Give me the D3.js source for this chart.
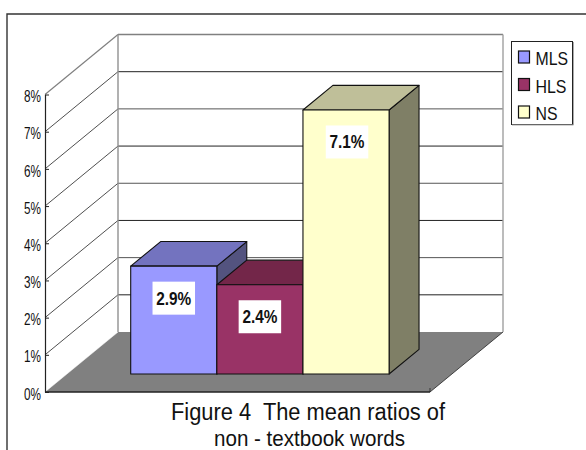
<!DOCTYPE html>
<html><head><meta charset="utf-8">
<script src="https://cdn.jsdelivr.net/npm/d3@7"></script>
<style>html,body{margin:0;padding:0;background:#fff;overflow:hidden}svg{display:block}text{font-family:"Liberation Sans",Arial,sans-serif;fill:#111}</style>
</head><body><svg id="c" width="586" height="450"></svg>
<script>
const categories = ["MLS","HLS","NS"];
const values = [2.9,2.4,7.1];
const labels = ["2.9%","2.4%","7.1%"];
const tickValues = [0,1,2,3,4,5,6,7,8];
const frontColors = ["#9999ff","#993366","#ffffcc"];
const topColors = ["#7373bf","#732649","#bfbf99"];
const sideColors = ["#53537f","#4d1933","#7f7f66"];
const titleLines = ["Figure 4  The mean ratios of","non - textbook words"];

const svg = d3.select("#c");
const y = d3.scaleLinear().domain([0,8]).range([392,94.5]);
const xPlane = [45,430], wallDx = 73, wallDy = -60;
const barInset = 0.3, barDepth = 0.41;
const x = d3.scaleBand().domain(categories)
  .range([xPlane[0]+wallDx*barInset+0.5, xPlane[1]+wallDx*barInset+0.5])
  .paddingInner(0).paddingOuter(0.735);
const pts = a => a.map(p=>p.join(",")).join(" ");

// frame
svg.append("path").attr("d","M7,450V14H586").attr("fill","none").attr("stroke","#333").attr("stroke-width",1.4);

// floor
svg.append("polygon").attr("fill","#808080").attr("points",pts([
  [xPlane[0],y(0)],[xPlane[1],y(0)],[xPlane[1]+wallDx,y(0)+wallDy],[xPlane[0]+wallDx,y(0)+wallDy]]));
svg.append("line").attr("x1",xPlane[1]).attr("y1",y(0)).attr("x2",xPlane[1]+wallDx).attr("y2",y(0)+wallDy).attr("stroke","#222").attr("stroke-width",0.8);

// walls and gridlines
tickValues.filter(t=>t>0).forEach(t=>{
  const col = t===8 ? "#808080" : (t%2 ? "#222" : "#555");
  const w = t===8 ? 1.4 : 1;
  svg.append("line").attr("x1",xPlane[0]).attr("y1",y(t)).attr("x2",xPlane[0]+wallDx).attr("y2",y(t)+wallDy)
    .attr("stroke",t===8?"#808080":"#222").attr("stroke-width",t===8?1.2:0.8);
  svg.append("line").attr("x1",xPlane[0]+wallDx).attr("y1",y(t)+wallDy).attr("x2",xPlane[1]+wallDx).attr("y2",y(t)+wallDy)
    .attr("stroke",col).attr("stroke-width",w);
});
svg.append("line").attr("x1",xPlane[0]).attr("y1",y(0)).attr("x2",xPlane[0]+wallDx).attr("y2",y(0)+wallDy).attr("stroke","#fff").attr("stroke-width",0.5);
[xPlane[0]+wallDx, xPlane[1]+wallDx].forEach((lx,i)=>{
  svg.append("line").attr("x1",lx).attr("x2",lx).attr("y1",y(8)+wallDy).attr("y2",y(0)+wallDy)
    .attr("stroke",i?"#a0a0a0":"#909090").attr("stroke-width",1.4);
});

// axes
const axisY = svg.append("g").attr("transform",`translate(${xPlane[0]},0)`)
  .call(d3.axisLeft(y).tickValues(tickValues).tickSize(0).tickPadding(4).tickFormat(d=>d+"%"));
axisY.select(".domain").attr("stroke","#222").attr("stroke-width",1.2);
axisY.selectAll("text").attr("font-size",17).attr("font-family","Liberation Sans")
  .attr("textLength",17).attr("lengthAdjust","spacingAndGlyphs").attr("fill","#222").attr("dy","0.36em").attr("y",1);
axisY.selectAll("line").attr("stroke","#222").attr("x1",0).attr("x2",4).attr("stroke-width",1);
svg.append("line").attr("x1",xPlane[0]).attr("x2",xPlane[1]).attr("y1",y(0)).attr("y2",y(0)).attr("stroke","#222").attr("stroke-width",1.4);
svg.append("line").attr("x1",xPlane[1]).attr("x2",xPlane[1]).attr("y1",y(0)).attr("y2",y(0)-4).attr("stroke","#222").attr("stroke-width",0.8);

// bars
const frontY = v => y(v)+wallDy*barInset;
const dx = wallDx*barDepth, dy = wallDy*barDepth;
const base = frontY(0);
categories.forEach((c,i)=>{
  const l=x(c), r=l+x.bandwidth(), t=frontY(values[i]);
  const g=svg.append("g").attr("stroke","#111").attr("stroke-width",1.1).attr("stroke-linejoin","round");
  g.append("polygon").attr("fill",sideColors[i]).attr("points",pts([[r,base],[r+dx,base+dy],[r+dx,t+dy],[r,t]]));
  g.append("polygon").attr("fill",topColors[i]).attr("points",pts([[l,t],[l+dx,t+dy],[r+dx,t+dy],[r,t]]));
  g.append("rect").attr("fill",frontColors[i]).attr("x",l).attr("y",t).attr("width",r-l).attr("height",base-t);
});

// data labels
const labelBoxW = 42.5, labelBoxH = 33;
categories.forEach((c,i)=>{
  const cx=x(c)+x.bandwidth()/2+ (i===2?1:0), t=frontY(values[i]);
  svg.append("rect").attr("x",cx-labelBoxW/2).attr("y",t+15.5).attr("width",labelBoxW).attr("height",labelBoxH).attr("fill","#fff");
  svg.append("text").attr("x",cx).attr("y",t+38.5).attr("text-anchor","middle").attr("font-size",18).attr("font-weight","bold")
    .attr("textLength",35).attr("lengthAdjust","spacingAndGlyphs").attr("fill","#000").text(labels[i]);
});

// legend
const lg = svg.append("g");
lg.append("rect").attr("x",511.5).attr("y",41.5).attr("width",61).attr("height",83).attr("fill","#fff").attr("stroke","#222");
lg.append("path").attr("d","M573.5,42V125H512").attr("fill","none").attr("stroke","#aaa");
const legY = d3.scalePoint().domain(categories).range([57,112]);
categories.forEach((c,i)=>{
  lg.append("rect").attr("x",518.5).attr("y",legY(c)-6).attr("width",11).attr("height",12).attr("fill",frontColors[i]).attr("stroke","#111").attr("stroke-width",1.2);
  lg.append("text").attr("x",535.5).attr("y",legY(c)+8).attr("font-size",18).attr("fill","#222").text(c)
    .attr("textLength",[32.5,31,22][i]).attr("lengthAdjust","spacingAndGlyphs");
});

// title
titleLines.forEach((s,i)=>{
  svg.append("text").attr("xml:space","preserve").style("white-space","pre").attr("x",[171,214][i]).attr("y",[420,445.5][i])
    .attr("font-size",[23,22][i]).attr("textLength",[274,191][i]).attr("lengthAdjust","spacingAndGlyphs").attr("fill","#222").text(s);
});
</script></body></html>
